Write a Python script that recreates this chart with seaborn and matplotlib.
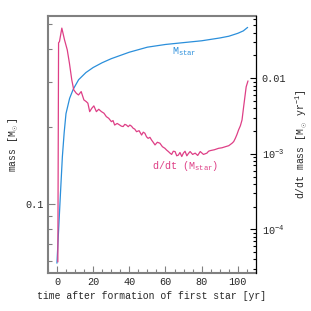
#!/usr/bin/env python3
"""
Stellar mass and accretion rate versus time after formation of first star.
"""
import numpy as np
import pandas as pd
import matplotlib
matplotlib.use("Agg")
import matplotlib.pyplot as plt
import seaborn as sns

sns.set_style("ticks")
plt.rcParams['font.family'] = ['Liberation Mono', 'DejaVu Sans']
plt.rcParams['mathtext.fontset'] = 'custom'
plt.rcParams['mathtext.rm'] = 'Liberation Mono'
plt.rcParams['mathtext.it'] = 'Liberation Mono'

# stellar mass [Msun] vs time [yr]
mass_time = [0, 1, 2, 3, 4, 5, 7, 9, 12, 16, 20, 25, 30, 40, 50, 60, 70, 80,
             90, 95, 100, 103, 105.4]
mass_vals = [0.059, 0.0815, 0.112, 0.153, 0.19, 0.225, 0.258, 0.28, 0.305,
             0.325, 0.34, 0.355, 0.368, 0.39, 0.408, 0.418, 0.425, 0.432,
             0.443, 0.45, 0.462, 0.472, 0.487]

# accretion rate [Msun/yr] vs time [yr]
rate_time = [0.5, 0.9, 1.4, 2.7, 4.2, 5.7, 6.9, 8.2, 9.3, 10.7, 11.9, 13.4,
             14.9, 16.2, 17.1, 18.1, 19.3, 20.4, 21.8, 23.1, 24.6, 26.0, 27.3,
             28.6, 30.1, 31.0, 31.9, 33.3, 34.7, 35.6, 36.6, 37.5, 38.4, 39.4,
             40.3, 41.2, 42.1, 43.0, 44.0, 45.4, 46.8, 47.7, 48.6, 49.5, 50.4,
             51.4, 52.3, 53.2, 54.2, 55.5, 56.9, 58.3, 59.7, 60.6, 61.6, 62.5,
             63.4, 64.3, 65.3, 66.2, 67.1, 68.0, 69.0, 69.9, 70.8, 71.8, 72.7,
             73.6, 75.0, 76.4, 77.8, 79.2, 81.0, 82.9, 83.8, 84.7, 87.0, 89.3,
             91.2, 93.1, 95.0, 96.8, 97.7, 98.6, 99.5, 100.4, 101.4, 102.3,
             103.2, 104.6, 105.6]
rate_vals = [3.7e-5, 0.0294, 0.0305, 0.046, 0.0321, 0.0237, 0.0158, 0.0095,
             0.0070, 0.00632, 0.0060, 0.00665, 0.00516, 0.0049, 0.00467,
             0.00361, 0.00401, 0.0043, 0.00361, 0.00388, 0.00361, 0.00344,
             0.0031, 0.00295, 0.00266, 0.00275, 0.0024, 0.00252, 0.0024,
             0.00232, 0.00229, 0.00245, 0.0024, 0.00228, 0.0024, 0.00232,
             0.00218, 0.00212, 0.00196, 0.00202, 0.00177, 0.00193, 0.00187,
             0.00168, 0.0016, 0.00165, 0.00152, 0.00142, 0.00131, 0.00142,
             0.00138, 0.00124, 0.00118, 0.00112, 0.00107, 0.00102, 0.00098,
             0.00108, 0.00107, 0.00094, 0.00096, 0.00104, 0.00092, 0.00102,
             0.00108, 0.00094, 0.00101, 0.00107, 0.00098, 0.00102, 0.00095,
             0.00107, 0.00098, 0.00102, 0.00108, 0.0011, 0.00113, 0.00118,
             0.0012, 0.00124, 0.00128, 0.00138, 0.00145, 0.0016, 0.0018,
             0.00207, 0.00235, 0.0028, 0.0042, 0.0077, 0.0092]

BLUE = '#2b8fdb'
PINK = '#de3f86'
GRAY = '#808080'

mass_df = pd.DataFrame({'t': mass_time, 'm': mass_vals})
rate_df = pd.DataFrame({'t': rate_time, 'r': rate_vals})

fig = plt.figure(figsize=(3.11, 3.11), dpi=100)
ax = fig.add_axes([0.154, 0.122, 0.669, 0.827])
ax2 = ax.twinx()

sns.lineplot(data=mass_df, x='t', y='m', ax=ax, color=BLUE, linewidth=0.9,
             sort=False)
sns.lineplot(data=rate_df, x='t', y='r', ax=ax2, color=PINK, linewidth=0.9,
             sort=False)

ax.set_yscale('log')
ax2.set_yscale('log')
ax.set_xlim(-5, 110)
ax.set_ylim(0.054, 0.54)
ax2.set_ylim(2.64e-5, 0.0668)

# x ticks
ax.set_xticks([0, 20, 40, 60, 80, 100])
ax.set_xticks(np.arange(-5, 111, 5), minor=True)
ax.set_xticklabels(['0', '20', '40', '60', '80', '100'])

# left y ticks
ax.set_yticks([0.1])
ax.set_yticklabels(['0.1'])
ax.set_yticks([0.06, 0.07, 0.08, 0.09, 0.2, 0.3, 0.4, 0.5], minor=True)
ax.yaxis.set_minor_formatter(matplotlib.ticker.NullFormatter())

# right y ticks
ax2.set_yticks([1e-4, 1e-3, 1e-2])
ax2.set_yticklabels([r'10$^{-4}$', r'10$^{-3}$', '0.01'])
minors = [k * 10.0 ** e for e in (-5, -4, -3, -2) for k in range(2, 10)]
minors = [v for v in minors if 2.64e-5 < v < 0.0668]
ax2.set_yticks(minors, minor=True)
ax2.yaxis.set_minor_formatter(matplotlib.ticker.NullFormatter())

FS = 7.0
ax.tick_params(axis='both', which='major', direction='in', length=4.8,
               width=0.8, color=GRAY, labelsize=FS + 0.3, pad=3, top=False,
               right=False)
ax.tick_params(axis='both', which='minor', direction='in', length=2.9,
               width=0.8, color=GRAY, top=False, right=False)
ax2.tick_params(axis='y', which='major', direction='in', length=4.5,
                width=0.8, color='black', labelsize=FS + 0.3, pad=4)
ax2.tick_params(axis='y', which='minor', direction='in', length=2.2,
                width=0.8, color='black')

for side in ('left', 'top', 'bottom'):
    ax.spines[side].set_color(GRAY)
    ax.spines[side].set_linewidth(1.5)
    ax.spines[side].set_visible(True)
    ax2.spines[side].set_visible(False)
ax.spines['right'].set_visible(False)
ax2.spines['right'].set_color('black')
ax2.spines['right'].set_linewidth(0.9)
ax2.spines['right'].set_visible(True)

ax.set_xlabel('time after formation of first star [yr]', fontsize=FS,
              labelpad=3)
ax.set_ylabel(r'mass [M$_\odot$]', fontsize=FS, labelpad=3)
ax2.set_ylabel(r'd/dt mass [M$_\odot$ yr$^{-1}$]', fontsize=FS, labelpad=5)

ax.text(63.5, 0.392, r'M$_{\rm star}$', color=BLUE, fontsize=FS + 0.3,
        ha='left', va='center')
ax2.text(52.5, 6.9e-4, r'd/dt (M$_{\rm star}$)', color=PINK,
         fontsize=FS + 0.3, ha='left', va='center')

fig.savefig('out.png', dpi=100)
plt.close(fig)
